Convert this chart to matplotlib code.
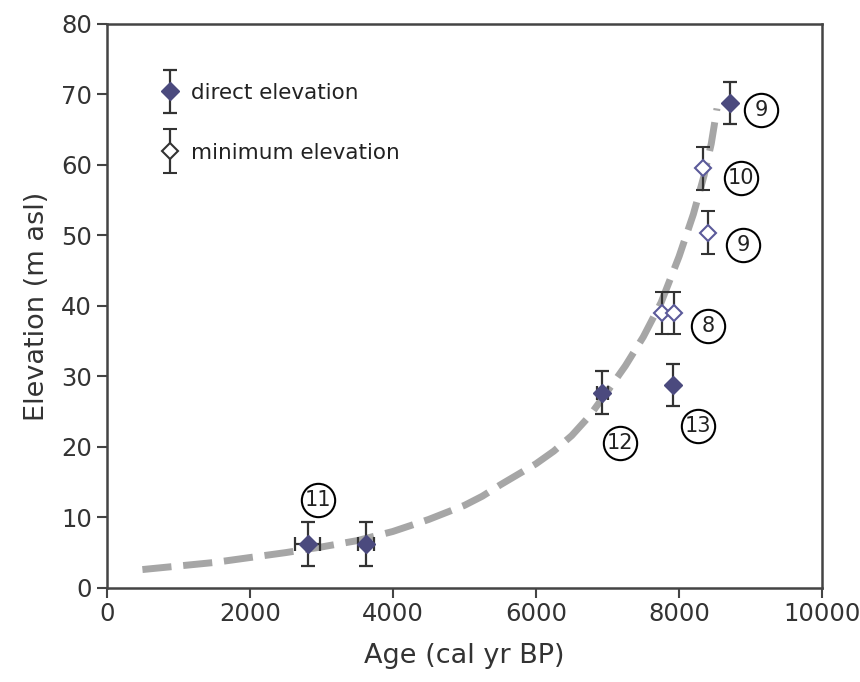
import numpy as np
import matplotlib.pyplot as plt
from matplotlib.container import ErrorbarContainer
from matplotlib.legend_handler import HandlerErrorbar

# direct elevation points
direct_age = [2810, 3620, 6930, 7920, 8710]
direct_elev = [6.2, 6.2, 27.7, 28.8, 68.8]
direct_xerr = [175, 110, 80, 0, 0]
direct_yerr = [3.1, 3.1, 3.0, 3.0, 3.0]

# minimum elevation points
min_age = [7760, 7930, 8340, 8400]
min_elev = [39.0, 39.0, 59.5, 50.4]
min_yerr = [3.0, 3.0, 3.0, 3.0]

# dashed trend curve
curve_age = [500, 1000, 1500, 2000, 2500, 3000, 3500, 4000, 4500, 5000,
             5250, 5500, 5750, 6000, 6250, 6500, 6750, 7000, 7250, 7500,
             7750, 8000, 8200, 8350, 8450, 8530]
curve_elev = [2.6, 3.1, 3.6, 4.3, 5.0, 5.8, 6.7, 8.0, 9.7, 11.7,
              13.0, 14.6, 16.1, 17.6, 19.4, 21.6, 24.4, 27.9, 31.5, 35.6,
              40.5, 47.0, 53.0, 58.5, 63.0, 68.0]

# circled site numbers
site_labels = ['9', '10', '9', '8', '13', '12', '11']
site_age = [9150, 8860, 8900, 8410, 8270, 7180, 2960]
site_elev = [67.8, 58.2, 48.7, 37.1, 22.9, 20.6, 12.5]

fill_col = '#4b4a7e'
edge_col = '#5b5a9a'
err_col = '#333333'
axis_col = '#444444'

fig = plt.figure(figsize=(8.6, 6.82), dpi=100)
ax = fig.add_axes([0.124, 0.138, 0.832, 0.827])

ax.plot(curve_age, curve_elev, color='#a6a6a6', lw=5, dashes=(4.2, 1.7),
        solid_capstyle='butt', dash_capstyle='butt', zorder=1)

ax.errorbar(direct_age, direct_elev, xerr=direct_xerr, yerr=direct_yerr,
            fmt='D', ms=9, mfc=fill_col, mec=fill_col, ecolor=err_col,
            elinewidth=1.6, capsize=5, capthick=1.6, zorder=3)
ax.errorbar(min_age, min_elev, yerr=min_yerr,
            fmt='D', ms=8, mfc='white', mec=edge_col, mew=1.5, ecolor=err_col,
            elinewidth=1.6, capsize=5, capthick=1.6, zorder=3)

# legend proxies: vertical error bars only
h1 = ax.errorbar([np.nan], [np.nan], yerr=[1], fmt='D', ms=9, mfc=fill_col,
                 mec=fill_col, ecolor=err_col, elinewidth=1.6, capsize=5,
                 capthick=1.6, label='direct elevation')
h2 = ax.errorbar([np.nan], [np.nan], yerr=[1], fmt='D', ms=8, mfc='white',
                 mec='#333333', mew=1.5, ecolor=err_col, elinewidth=1.6,
                 capsize=5, capthick=1.6, label='minimum elevation')

ax.plot(site_age, site_elev, 'o', ms=24, mfc='white', mec='black', mew=1.5,
        ls='none', zorder=4)
for lab, xa, ye in zip(site_labels, site_age, site_elev):
    ax.text(xa, ye, lab, ha='center', va='center', fontsize=15,
            color='#222222', zorder=5)

leg = ax.legend(handles=[h1, h2], loc='upper left', bbox_to_anchor=(0.05, 0.93),
                frameon=False, fontsize=15.5, labelspacing=1.85, handlelength=0.75,
                handletextpad=0.6,
                handler_map={ErrorbarContainer: HandlerErrorbar(yerr_size=1.0)})
for t in leg.get_texts():
    t.set_color('#222222')

ax.set_xlim(0, 10000)
ax.set_ylim(0, 80)
ax.set_xticks(range(0, 10001, 2000))
ax.set_yticks(range(0, 81, 10))
ax.tick_params(direction='out', length=7, width=1.5, color=axis_col,
               labelsize=17.5, labelcolor='#333333')
for s in ax.spines.values():
    s.set_color(axis_col)
    s.set_linewidth(1.8)

ax.set_xlabel('Age (cal yr BP)', fontsize=19.5, color='#333333', labelpad=12)
ax.set_ylabel('Elevation (m asl)', fontsize=19.5, color='#333333', labelpad=8)

fig.savefig('out.png', dpi=100)
